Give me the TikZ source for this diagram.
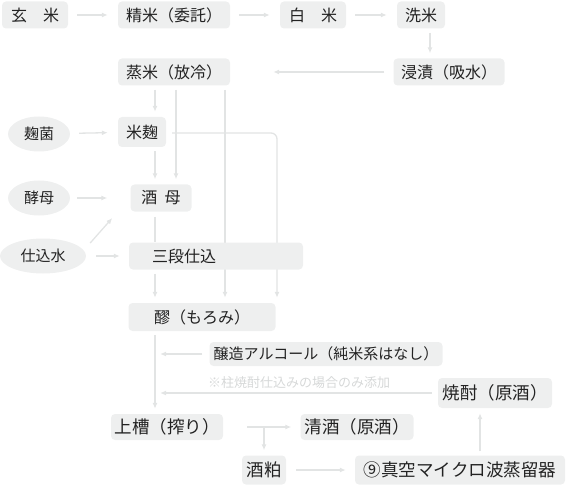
\documentclass[tikz,border=0pt]{standalone}
\usepackage{fontspec}
\setmainfont{Noto Sans CJK JP}
\usetikzlibrary{arrows.meta,positioning,shapes.geometric,calc,backgrounds}
\definecolor{boxgray}{RGB}{238,239,239}
\definecolor{linegray}{RGB}{226,228,228}
\definecolor{notegray}{RGB}{214,216,216}
\definecolor{inkgray}{RGB}{34,34,34}

\tikzset{
  procbox/.style={fill=boxgray,rounded corners=4pt,inner sep=0pt,text=inkgray,
    minimum height=27pt,font=\fontsize{16pt}{18pt}\selectfont},
  bigbox/.style={procbox,font=\fontsize{17.5pt}{19pt}\selectfont},
  srcell/.style={ellipse,fill=boxgray,inner sep=0pt,text=inkgray,
    minimum width=62pt,minimum height=35pt,font=\fontsize{15pt}{17pt}\selectfont},
  flow/.style={-{Latex[length=6pt,width=5pt]},linegray,line width=1.3pt,
    shorten <=4pt,shorten >=5pt},
  gap/.style={shorten <=9pt,shorten >=10pt},
  plain/.style={linegray,line width=1.3pt},
}

\begin{document}
\begin{tikzpicture}[x=1pt,y=-1pt]
  \useasboundingbox (0,0) rectangle (569,486);

  % Polishing and soaking
  \node[procbox,minimum width=66pt] (genmai) at (35,15) {玄　米};
  \node[procbox,minimum width=112pt] (seimai) at (174,15) {精米（委託）};
  \node[procbox,minimum width=66pt] (hakumai) at (313,15) {白　米};
  \node[procbox,minimum width=48pt] (senmai) at (421,15) {洗米};
  \node[procbox,minimum width=111pt] (shinseki) at (449,72) {浸漬（吸水）};
  \node[procbox,minimum width=112pt] (jomai) at (174,72) {蒸米（放冷）};

  % Koji, yeast, water
  \node[srcell] (kojikin) at (39,134) {麹菌};
  \node[procbox,minimum width=48pt,minimum height=30pt] (komekoji) at (142,132) {米麹};
  \node[srcell] (kobo) at (39,198) {酵母};
  \node[procbox,minimum width=61pt] (shubo) at (161,198) {酒\hspace{0.45em}母};
  \node[srcell,minimum width=86pt] (mizu) at (43,256) {仕込水};
  \node[procbox,minimum width=174pt,text width=174pt,align=left] (sandan) at (216,256)
    {\hspace*{23pt}三段仕込};
  \node[procbox,minimum width=147pt,minimum height=28pt] (moromi) at (202,317) {醪（もろみ）};

  % Additions
  \node[procbox,minimum width=233pt,minimum height=24pt,
    font=\fontsize{15pt}{17pt}\selectfont] (alcohol) at (326,354) {醸造アルコール（純米系はなし）};
  \node[text=notegray,inner sep=0pt,font=\fontsize{13pt}{15pt}\selectfont] (note) at (299,383)
    {※柱焼酎仕込みの場合のみ添加};
  \node[bigbox,minimum width=114pt,minimum height=30pt] (shochu) at (495,393) {焼酎（原酒）};

  % Pressing and distilling
  \node[bigbox,minimum width=112pt,minimum height=26pt] (joso) at (167,427) {上槽（搾り）};
  \node[bigbox,minimum width=113pt,minimum height=26pt] (seishu) at (357,427) {清酒（原酒）};
  \node[bigbox,minimum width=44pt,minimum height=29pt] (kasu) at (264,470) {酒粕};
  \node[bigbox,minimum width=210pt,minimum height=29pt] (still) at (460,470) {⑨真空マイクロ波蒸留器};

  % Columns of the vertical lines
  \coordinate (colA) at (155,0);
  \coordinate (colB) at (176,0);
  \coordinate (colC) at (225,0);
  \coordinate (colD) at (277,0);
  \coordinate (colE) at (480,0);

  \begin{scope}[on background layer]
    \draw[flow,gap] (genmai) -- (seimai);
    \draw[flow,gap] (seimai) -- (hakumai);
    \draw[flow,gap] (hakumai) -- (senmai);
    \draw[flow] ([xshift=9pt]senmai.south) -- ([xshift=9pt]senmai.south |- shinseki.north);
    \draw[flow,shorten <=9pt,shorten >=43pt] (shinseki) -- (jomai);

    \draw[flow] (jomai.south -| colA) -- (komekoji.north -| colA);
    \draw[flow] (jomai.south -| colB) -- (shubo.north -| colB);
    \draw[flow] (jomai.south -| colC) -- (moromi.north -| colC);
    \draw[flow,shorten <=6pt,rounded corners=6pt] (komekoji.east |- 0,133) -| (moromi.north -| colD);
    \draw[flow] (komekoji.south -| colA) -- (shubo.north -| colA);

    \draw[flow,gap] (kojikin) -- (komekoji);
    \draw[flow,shorten <=7pt,shorten >=23pt] (kobo) -- (shubo);
    \draw[flow,shorten <=0pt,shorten >=0pt] ([shift={(4,-13)}]mizu.east) -- ([shift={(-18,20)}]shubo.west);
    \draw[flow,shorten <=10pt,shorten >=9pt] (mizu) -- (sandan);

    \draw[plain,shorten <=5pt] (shubo.south -| colA) -- (sandan.north -| colA);
    \draw[flow] (sandan.south -| colA) -- (moromi.north -| colA);
    \draw[flow] (moromi.south -| colA) -- (joso.north -| colA);

    \draw[flow,shorten <=7pt] (alcohol.west) -- (alcohol.west -| colA);
    \draw[flow,shorten <=6pt] (shochu.west) -- (shochu.west -| colA);

    \draw[flow,shorten <=24pt,shorten >=9pt] (joso) -- (seishu);
    \draw[flow,shorten <=0pt] (kasu.north |- joso.east) -- (kasu.north);
    \draw[flow,shorten <=10pt,shorten >=9pt] (kasu) -- (still);
    \draw[flow] (still.north -| colE) -- (shochu.south -| colE);
  \end{scope}
\end{tikzpicture}
\end{document}
